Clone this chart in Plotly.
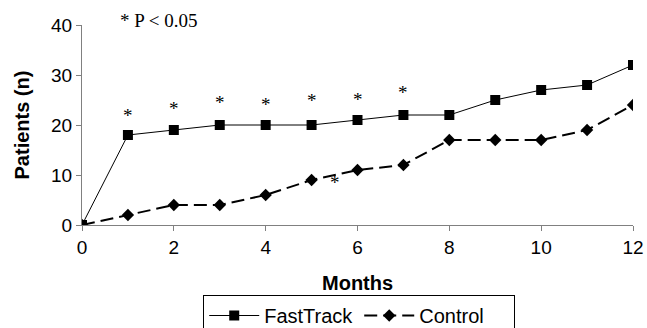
import plotly.graph_objects as go

months = list(range(0, 13))
fasttrack = [0, 18, 19, 20, 20, 20, 21, 22, 22, 25, 27, 28, 32]
control = [0, 2, 4, 4, 6, 9, 11, 12, 17, 17, 17, 19, 24]

# significance markers (asterisks)
star_x = [1, 2, 3, 4, 5, 6, 7, 5.5]
star_y = [22.0, 23.4, 24.6, 24.2, 25.0, 25.2, 26.6, 8.6]

fig = go.Figure()
fig.add_trace(go.Scatter(
    x=months, y=fasttrack, name="FastTrack", mode="lines+markers",
    line=dict(color="black", width=1),
    marker=dict(symbol="square", size=10, color="black"),
))
fig.add_trace(go.Scatter(
    x=months, y=control, name="Control", mode="lines+markers",
    line=dict(color="black", width=2, dash="13px,6px"),
    marker=dict(symbol="diamond", size=9.5, color="black"),
))

for sx, sy in zip(star_x, star_y):
    fig.add_annotation(x=sx, y=sy, text="*", showarrow=False, yanchor="middle",
                       font=dict(family="Liberation Serif", size=19, color="#000000"))

fig.add_annotation(x=0.065, y=1.025, xref="paper", yref="paper", text="* P < 0.05",
                   showarrow=False, xanchor="left", yanchor="middle",
                   font=dict(family="Liberation Serif", size=19, color="black"))

fig.add_annotation(x=0.5, y=-0.29, xref="paper", yref="paper", text="<b>Months</b>",
                   showarrow=False, xanchor="center", yanchor="middle",
                   font=dict(family="Liberation Sans, Arial", size=20, color="black"))
fig.add_annotation(x=-0.108, y=0.5, xref="paper", yref="paper", text="<b>Patients (n)</b>",
                   showarrow=False, xanchor="center", yanchor="middle", textangle=-90,
                   font=dict(family="Liberation Sans, Arial", size=20, color="black"))

fig.update_layout(
    width=647, height=328,
    margin=dict(l=82, r=14, t=25, b=103, autoexpand=False),
    paper_bgcolor="white", plot_bgcolor="white",
    font=dict(family="Liberation Sans, Arial", size=19, color="black"),
    showlegend=True,
    legend=dict(orientation="h", x=0.22, xanchor="left", y=-0.35, yanchor="top",
                bordercolor="black", borderwidth=1, font=dict(size=20),
                itemwidth=50, entrywidth=90, entrywidthmode="pixels", tracegroupgap=0),
)
fig.update_xaxes(range=[0, 12], tickvals=[0, 2, 4, 6, 8, 10, 12], automargin=False,
                 showgrid=False, zeroline=False, showline=True, linecolor="#808080",
                 ticks="outside", ticklen=5, tickcolor="#808080")
fig.update_yaxes(range=[0, 40], tickvals=[0, 10, 20, 30, 40], automargin=False,
                 showgrid=False, zeroline=False, showline=True, linecolor="#808080",
                 ticks="outside", ticklen=5, tickcolor="#808080")

fig.write_html("out.html", config={"displayModeBar": False},
               post_script="document.body.style.margin='0';document.body.style.overflow='hidden';")
